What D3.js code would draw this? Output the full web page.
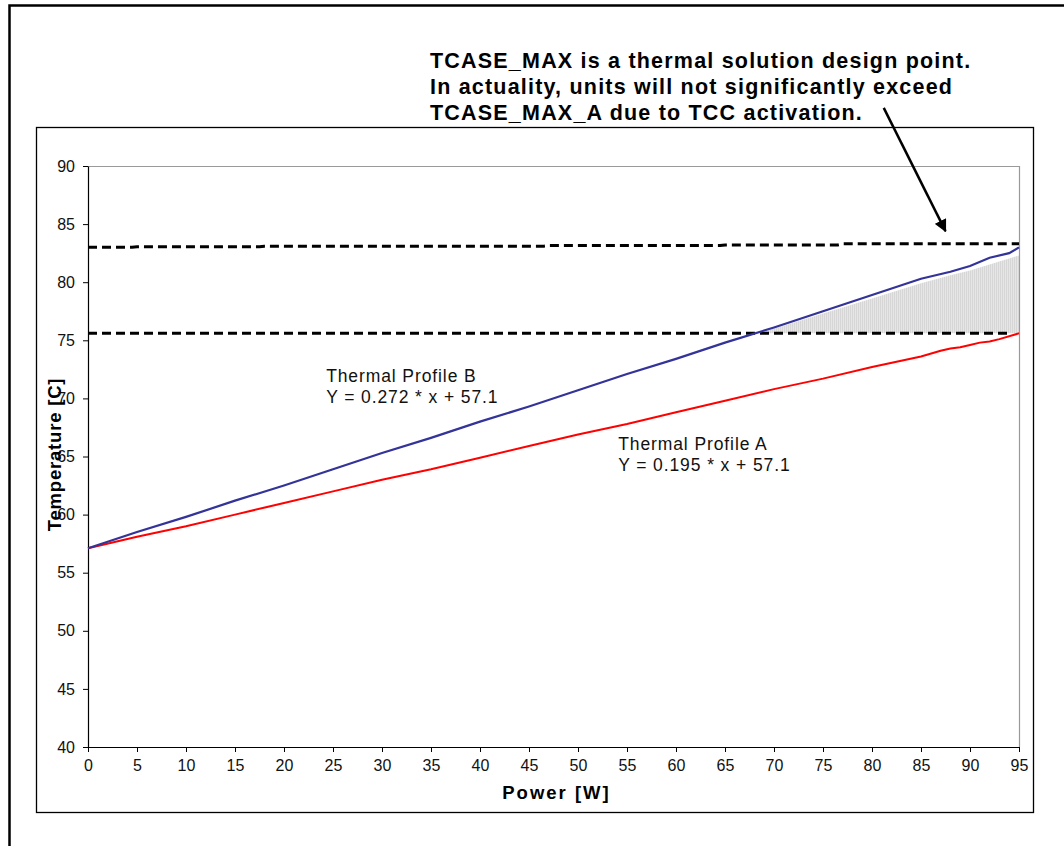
<!DOCTYPE html>
<html>
<head>
<meta charset="utf-8">
<script src="https://cdn.jsdelivr.net/npm/d3@7"></script>
<style>
  body { margin: 0; background: #fff; }
  svg { display: block; font-family: "Liberation Sans", Arial, sans-serif; }
</style>
</head>
<body>
<svg id="chart" width="1064" height="846"></svg>
<script>
// power [W] and temperature [C]
let profileB = [[0,57.1],[5,58.5],[10,59.8],[15,61.2],[20,62.5],[25,63.9],[30,65.3],[35,66.6],[40,68.0],[45,69.3],[50,70.7],[55,72.1],[60,73.4],[65,74.8],[70,76.1],[75,77.5],[80,78.9],[85,80.3],[88,80.9],[90,81.4],[92,82.1],[94,82.5],[95,83.0]];
let profileA = [[0,57.1],[5,58.1],[10,59.0],[15,60.0],[20,61.0],[25,62.0],[30,63.0],[35,63.9],[40,64.9],[45,65.9],[50,66.9],[55,67.8],[60,68.8],[65,69.8],[70,70.8],[75,71.7],[80,72.7],[85,73.6],[87,74.1],[88,74.3],[89,74.4],[90,74.6],[91,74.8],[92,74.9],[93,75.1],[95,75.6]];
let tcaseMax = [[0,83.0],[4.5,83.0],[5,83.05],[17.5,83.05],[18,83.1],[46.5,83.1],[47,83.15],[64.5,83.15],[65,83.2],[76.5,83.2],[77,83.3],[95,83.3]];
let tcaseMaxA = [[0,75.6],[94,75.6]];
let shadeTop = [[68.5,75.6],[70,76.0],[75,77.3],[80,78.6],[85,79.9],[88,80.6],[90,81.0],[95,82.3]];
let shadeBottom = 75.6;

let xTicks = d3.range(0, 96, 5);
let yTicks = d3.range(40, 91, 5);

let noteLines = ["TCASE_MAX is a thermal solution design point.",
                 "In actuality, units will not significantly exceed",
                 "TCASE_MAX_A due to TCC activation."];
let labelB = ["Thermal Profile B", "Y = 0.272 * x + 57.1"];
let labelA = ["Thermal Profile A", "Y = 0.195 * x + 57.1"];

let svg = d3.select("#chart");

let plotLeft = 88, plotRight = 1019, plotTop = 166, plotBottom = 747;

let xScale = d3.scaleLinear().domain([0, 95]).range([plotLeft, plotRight]);
let yScale = d3.scaleLinear().domain([40, 90]).range([plotBottom, plotTop]);

// outer frame and chart frame
svg.append("rect")
    .attr("x", 9.5).attr("y", 5.5)
    .attr("width", 1100).attr("height", 900)
    .attr("fill", "none").attr("stroke", "#000").attr("stroke-width", 2.5);

svg.append("rect")
    .attr("x", 36.5).attr("y", 127.5)
    .attr("width", 997).attr("height", 685)
    .attr("fill", "#fff").attr("stroke", "#000").attr("stroke-width", 1.3);

// hatch pattern for the shaded area
let defs = svg.append("defs");
let pat = defs.append("pattern")
    .attr("id", "hatch")
    .attr("patternUnits", "userSpaceOnUse")
    .attr("width", 2).attr("height", 4);
pat.append("rect").attr("width", 2).attr("height", 4).attr("fill", "#e6e6e6");
pat.append("rect").attr("width", 1).attr("height", 4).attr("fill", "#d6d6d6");

// grey plot border (top and right)
svg.append("path")
    .attr("d", "M" + plotLeft + "," + (plotTop + 0.5) + "H" + (plotRight + 0.5) + "V" + plotBottom)
    .attr("fill", "none").attr("stroke", "#9a9a9a").attr("stroke-width", 1.2);

// shaded region
svg.append("path")
    .datum(shadeTop)
    .attr("fill", "url(#hatch)")
    .attr("d", d3.area()
        .x(d => xScale(d[0]))
        .y0(yScale(shadeBottom))
        .y1(d => yScale(d[1])));

// axes
let yAxis = d3.axisLeft(yScale).tickValues(yTicks).tickSize(5).tickSizeOuter(0).tickPadding(8);
let xAxis = d3.axisBottom(xScale).tickValues(xTicks).tickSize(5).tickSizeOuter(0).tickPadding(8);

let gy = svg.append("g")
    .attr("transform", "translate(" + plotLeft + ",0)")
    .call(yAxis);
let gx = svg.append("g")
    .attr("transform", "translate(0," + plotBottom + ")")
    .call(xAxis);

[gx, gy].forEach(g => {
    g.attr("font-size", 16).attr("font-family", "'Liberation Sans', Arial, sans-serif");
    g.select(".domain").attr("stroke", "#000").attr("stroke-width", 1.2);
    g.selectAll(".tick line").attr("stroke", "#000");
    g.selectAll(".tick text").attr("fill", "#111");
});

// dashed limit lines
let line = d3.line().x(d => xScale(d[0])).y(d => yScale(d[1]));

svg.append("path")
    .datum(tcaseMax)
    .attr("d", line)
    .attr("fill", "none")
    .attr("stroke", "#000")
    .attr("stroke-width", 3)
    .attr("stroke-dasharray", "9,5");

svg.append("path")
    .datum(tcaseMaxA)
    .attr("d", line)
    .attr("fill", "none")
    .attr("stroke", "#000")
    .attr("stroke-width", 3)
    .attr("stroke-dasharray", "9,5");

// thermal profiles
svg.append("path")
    .datum(profileA)
    .attr("d", line)
    .attr("fill", "none")
    .attr("stroke", "#ff0000")
    .attr("stroke-width", 2);

svg.append("path")
    .datum(profileB)
    .attr("d", line)
    .attr("fill", "none")
    .attr("stroke", "#333399")
    .attr("stroke-width", 2.2);

// axis titles
svg.append("text")
    .attr("x", xScale(47.5) + 3)
    .attr("y", 799)
    .attr("text-anchor", "middle")
    .attr("font-size", 18.5)
    .attr("font-weight", "bold")
    .attr("letter-spacing", 2)
    .text("Power [W]");

svg.append("text")
    .attr("transform", "translate(61," + (yScale(65) - 2) + ") rotate(-90)")
    .attr("text-anchor", "middle")
    .attr("font-size", 18.5)
    .attr("font-weight", "bold")
    .attr("letter-spacing", 0.8)
    .text("Temperature [C]");

// profile labels
function label(lines, x, y) {
    let t = svg.append("text")
        .attr("x", xScale(x))
        .attr("y", yScale(y))
        .attr("font-size", 17.5)
        .attr("letter-spacing", 0.9)
        .attr("fill", "#111");
    lines.forEach((s, i) => {
        t.append("tspan").attr("x", xScale(x)).attr("dy", i ? 21 : 0).text(s);
    });
}
label(labelB, 24.3, 71.4);
label(labelA, 54.1, 65.6);

// note with arrow
let note = svg.append("text")
    .attr("font-size", 21.5)
    .attr("font-weight", "bold")
    .attr("letter-spacing", 1.2)
    .attr("fill", "#000");
noteLines.forEach((s, i) => {
    note.append("tspan")
        .attr("x", 430)
        .attr("y", 68 + i * 26)
        .text(s);
});

defs.append("marker")
    .attr("id", "arrow")
    .attr("viewBox", "0 0 10 10")
    .attr("refX", 9).attr("refY", 5)
    .attr("markerWidth", 5).attr("markerHeight", 5)
    .attr("orient", "auto")
    .append("path")
    .attr("d", "M0,0L10,5L0,10z")
    .attr("fill", "#000");

let arrowFrom = [81.2, 95.0], arrowTo = [87.5, 84.4];
svg.append("line")
    .attr("x1", xScale(arrowFrom[0])).attr("y1", yScale(arrowFrom[1]))
    .attr("x2", xScale(arrowTo[0])).attr("y2", yScale(arrowTo[1]))
    .attr("stroke", "#000")
    .attr("stroke-width", 2.5)
    .attr("marker-end", "url(#arrow)");
</script>
</body>
</html>
